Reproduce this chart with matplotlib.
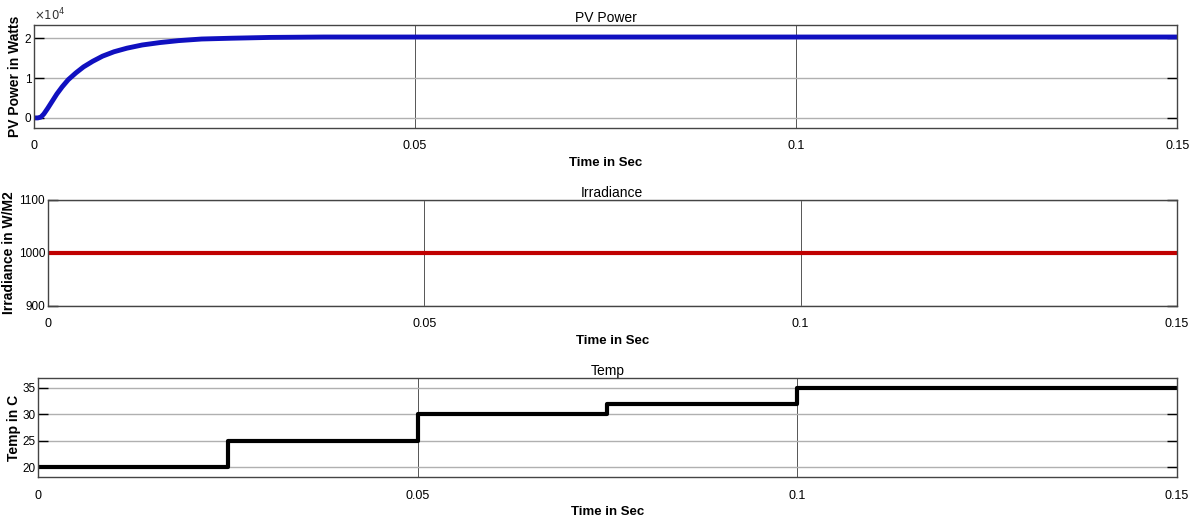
import matplotlib
matplotlib.use("Agg")
import matplotlib.pyplot as plt

# PV power (x1e4 W)
pv_time = [0.0, 0.0005, 0.0009, 0.0013, 0.0018, 0.0024, 0.0030, 0.0037, 0.0045,
           0.0055, 0.0065, 0.0077, 0.0090, 0.0105, 0.0122, 0.0142, 0.0165,
           0.0190, 0.0220, 0.0260, 0.0310, 0.0380, 0.0500, 0.0700, 0.1000, 0.1500]
pv_power = [0.0, 0.0, 0.02, 0.10, 0.24, 0.42, 0.60, 0.78, 0.96,
            1.13, 1.28, 1.42, 1.55, 1.66, 1.75, 1.83, 1.89,
            1.94, 1.98, 2.00, 2.02, 2.03, 2.03, 2.03, 2.03, 2.03]

irr_time = [0.0, 0.15]
irradiance = [1000, 1000]

temp_time = [0.0, 0.025, 0.05, 0.075, 0.1, 0.15]
temperature = [20, 25, 30, 32, 35, 35]

xticks = [0, 0.05, 0.1, 0.15]
xtick_labels = ["0", "0.05", "0.1", "0.15"]

FONT = ["Liberation Sans", "DejaVu Sans"]

fig = plt.figure(figsize=(11.96, 5.22), dpi=100)


def style_axes(ax, title, ylabel, yticks, ylim, label_x):
    ax.set_xlim(0, 0.15)
    ax.set_ylim(*ylim)
    ax.set_xticks(xticks)
    ax.set_xticklabels(xtick_labels, family=FONT, fontsize=9)
    ax.set_yticks(yticks)
    ax.set_yticklabels([str(v) for v in yticks], family=FONT, fontsize=8.5)
    ax.tick_params(axis="y", direction="in", left=True, right=True, length=7, width=1.0, pad=2)
    ax.tick_params(axis="x", pad=9, length=0)
    ax.grid(True, axis="y", color="#b0b0b0", linewidth=1.0)
    ax.grid(True, axis="x", color="#555555", linewidth=0.7)
    for s in ax.spines.values():
        s.set_color("#444444")
        s.set_linewidth(1.0)
    ax.set_title(title, family=FONT, fontsize=10, pad=2)
    ax.set_xlabel("Time in Sec", family=FONT, fontsize=9.5, fontweight="bold", labelpad=3)
    ax.set_ylabel(ylabel, family=FONT, fontsize=10, fontweight="bold")
    ax.yaxis.set_label_coords(label_x, 0.5)


ax1 = fig.add_axes([0.0284, 0.755, 0.956, 0.197])
ax1.plot(pv_time, pv_power, color="#1010c0", linewidth=3.5, solid_capstyle="butt")
style_axes(ax1, "PV Power", "PV Power in Watts", [0, 1, 2], (-0.25, 2.33), -0.0105)
ax1.text(0.0, 1.02, r"$\times10^4$", transform=ax1.transAxes, fontsize=8.5, color="#333333",
         ha="left", va="bottom")

ax2 = fig.add_axes([0.040, 0.414, 0.944, 0.203])
ax2.plot(irr_time, irradiance, color="#c00000", linewidth=3.0)
style_axes(ax2, "Irradiance", "Irradiance in W/M2", [900, 1000, 1100], (900, 1100), -0.0285)

ax3 = fig.add_axes([0.0318, 0.086, 0.952, 0.190])
ax3.step(temp_time, temperature, where="post", color="black", linewidth=3.0)
style_axes(ax3, "Temp", "Temp in C", [20, 25, 30, 35], (18.1, 36.9), -0.015)

fig.savefig("out.png", dpi=100, facecolor="white")
